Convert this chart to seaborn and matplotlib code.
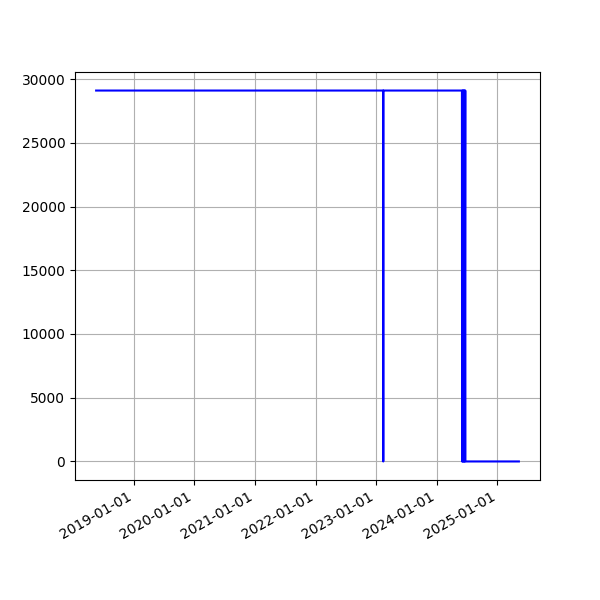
import numpy as np
import pandas as pd
import matplotlib
matplotlib.use("Agg")
import matplotlib.pyplot as plt
import matplotlib.dates as mdates
import seaborn as sns

# Values: a flat level with a single drop in early 2023,
# a burst of toggling in mid 2024, then zero.
dates = [
    "2018-05-20", "2023-02-12", "2023-02-13", "2023-02-14",
    "2024-06-01", "2024-06-02", "2024-06-05", "2024-06-06",
    "2024-06-09", "2024-06-10", "2024-06-13", "2024-06-14",
    "2024-06-17", "2024-06-18", "2024-06-21", "2024-06-22",
    "2025-05-10",
]
values = [
    29100, 29100, 0, 29100,
    29100, 0, 29100, 0,
    29100, 0, 29100, 0,
    29100, 0, 29100, 0,
    0,
]

df = pd.DataFrame({"date": pd.to_datetime(dates), "value": values})

fig, ax = plt.subplots(figsize=(6, 6), dpi=100)
sns.lineplot(data=df, x="date", y="value", ax=ax, color="blue",
             estimator=None, sort=False, linewidth=1.5)
ax.set_xlabel("")
ax.set_ylabel("")
ax.xaxis.set_major_locator(mdates.YearLocator())
ax.xaxis.set_major_formatter(mdates.DateFormatter("%Y-%m-%d"))
ax.grid(True)
fig.autofmt_xdate()
plt.savefig("out.png", dpi=100)
plt.close()
